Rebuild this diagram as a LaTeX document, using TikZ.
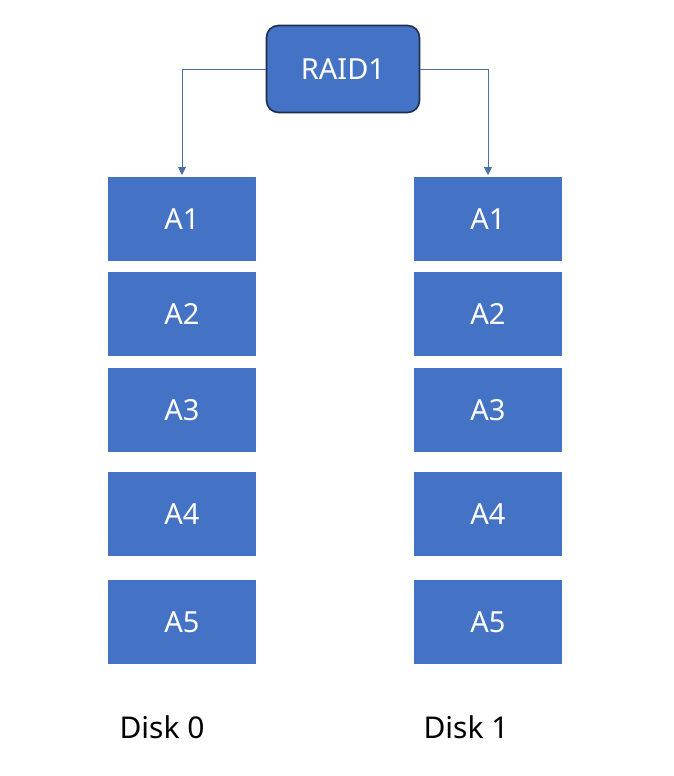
\documentclass[tikz,border=0pt]{standalone}
\usepackage{fontspec}
\setmainfont{Noto Sans}
\usetikzlibrary{arrows.meta}
\definecolor{blk}{HTML}{4472C4}
\definecolor{bord}{HTML}{1F2F4F}
\definecolor{arr}{HTML}{4A6FA8}
\begin{document}
\begin{tikzpicture}[x=1pt,y=-1pt,
  block/.style={fill=blk,draw=none,minimum width=148pt,minimum height=84pt,inner sep=0pt,text=white,font=\fontsize{29}{34}\selectfont},
  raid/.style={fill=blk,draw=bord,line width=1.6pt,rounded corners=12pt,minimum width=153pt,minimum height=87pt,inner sep=0pt,text=white,font=\fontsize{29}{34}\selectfont},
  lab/.style={font=\fontsize{30}{36}\selectfont,text=black,inner sep=0pt},
  conn/.style={draw=arr,line width=0.9pt,-{Triangle[width=8pt,length=8pt]}}]
\useasboundingbox (0,0) rectangle (673,776);
\node[raid] (raid) at (343,69) {RAID1};
\node[block] (l1) at (182,219) {A1};
\node[block] (l2) at (182,314) {A2};
\node[block] (l3) at (182,410) {A3};
\node[block] (l4) at (182,514) {A4};
\node[block] (l5) at (182,622) {A5};
\node[block] (r1) at (488,219) {A1};
\node[block] (r2) at (488,314) {A2};
\node[block] (r3) at (488,410) {A3};
\node[block] (r4) at (488,514) {A4};
\node[block] (r5) at (488,622) {A5};
\node[lab] (d0) at (162,727) {Disk 0};
\node[lab] (d1) at (466,727) {Disk 1};
\coordinate (tl) at (182,175);
\coordinate (tr) at (488,175);
\draw[conn] (raid.west) -| (tl);
\draw[conn] (raid.east) -| (tr);
\end{tikzpicture}
\end{document}
